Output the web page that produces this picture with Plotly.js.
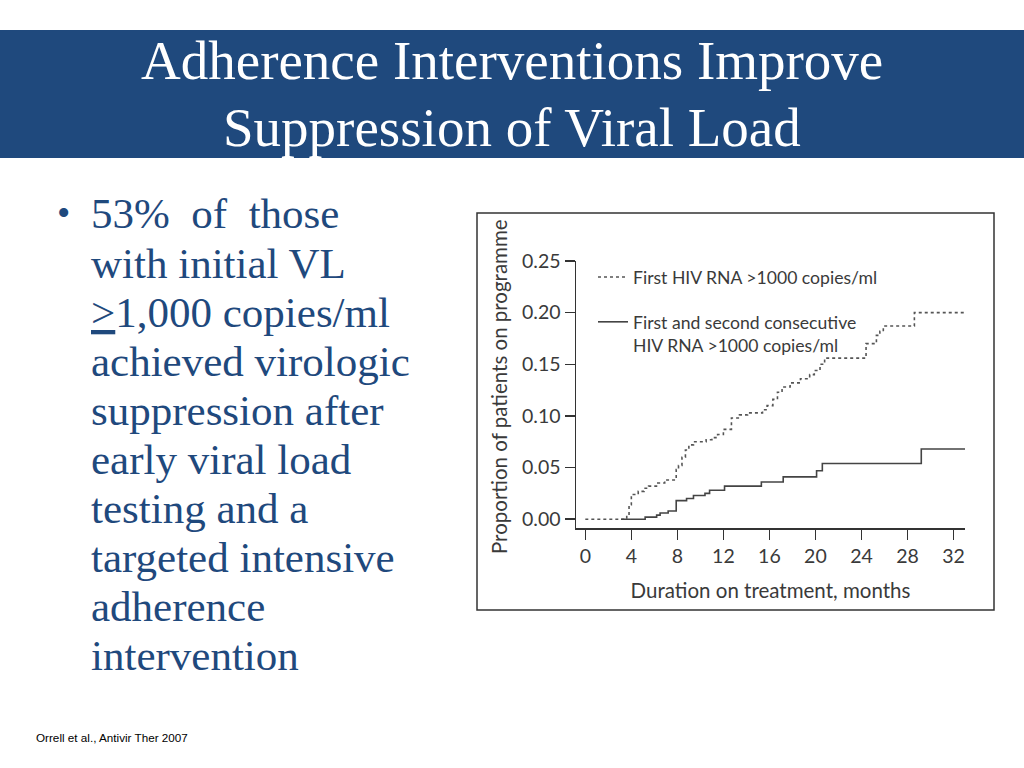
<!DOCTYPE html>
<html>
<head>
<meta charset="utf-8">
<script src="https://cdn.plot.ly/plotly-3.0.1.min.js"></script>
<style>html,body{margin:0;padding:0;background:#fff;}#chart{width:1024px;height:768px;}</style>
</head>
<body>
<div id="chart"></div>
<script>
// ---- data ----
var firstMonths = [0, 3.6, 3.8, 4.0, 4.6, 5.1, 5.5, 6.3, 6.9, 7.9, 8.1, 8.4, 8.7, 9.0, 9.4, 10.5, 11.0, 11.5, 12.0, 12.7, 13.4, 14.1, 15.4, 15.8, 16.3, 16.7, 17.1, 17.8, 18.7, 19.5, 19.9, 20.4, 20.8, 24.4, 25.3, 25.6, 25.9, 28.6, 33];
var firstProp   = [0, 0.004, 0.014, 0.024, 0.027, 0.030, 0.032, 0.035, 0.038, 0.048, 0.052, 0.060, 0.067, 0.072, 0.075, 0.077, 0.079, 0.082, 0.087, 0.098, 0.101, 0.103, 0.106, 0.110, 0.116, 0.123, 0.128, 0.132, 0.136, 0.140, 0.144, 0.150, 0.156, 0.170, 0.178, 0.182, 0.187, 0.200, 0.200];
var secondMonths = [3.1, 5.2, 6.2, 6.5, 7.2, 7.9, 8.8, 9.4, 10.4, 10.8, 12.1, 15.3, 17.2, 20.1, 20.6, 29.2, 33];
var secondProp   = [0, 0.002, 0.004, 0.006, 0.008, 0.018, 0.020, 0.023, 0.025, 0.028, 0.032, 0.036, 0.041, 0.047, 0.054, 0.068, 0.068];
var xTicks = [0, 4, 8, 12, 16, 20, 24, 28, 32];
var yTicks = [0, 0.05, 0.10, 0.15, 0.20, 0.25];
var seriesNames = ["First HIV RNA >1000 copies/ml", "First and second consecutive<br>HIV RNA >1000 copies/ml"];
var titleLines = ["Adherence Interventions Improve", "Suppression of Viral Load"];
var bulletLines = [
  "53%&nbsp; of&nbsp; those",
  "with initial VL",
  "<span style=\"text-decoration:underline\">&gt;</span>1,000 copies/ml",
  "achieved virologic",
  "suppression after",
  "early viral load",
  "testing and a",
  "targeted intensive",
  "adherence",
  "intervention"
];
var citation = "Orrell et al., Antivir Ther 2007";
var xTitle = "Duration on treatment, months";
var yTitle = "Proportion of patients on programme";

// ---- helpers: page pixels to paper coords ----
var W = 1024, H = 768;
function px(x){ return x / W; }
function py(y){ return 1 - y / H; }

var chartFont = "Lato, 'Open Sans', sans-serif";
var ink = "#3a3a3a";
var serif = "'Liberation Serif', 'DejaVu Serif', serif";
var slideBlue = "#1F497D";

var traces = [
  {x: firstMonths, y: firstProp, type: "scatter", mode: "lines", name: seriesNames[0],
   line: {shape: "hv", dash: "dot", width: 1.6, color: "#555555"}, legendgroup: "a"},
  {x: secondMonths, y: secondProp, type: "scatter", mode: "lines", name: seriesNames[1],
   line: {shape: "hv", width: 1.6, color: "#444444"}, legendgroup: "b"}
];

var annotations = [];
var titleY = [60, 127];
titleLines.forEach(function(t, i){
  annotations.push({text: t, x: px(512), y: py(titleY[i]), xref: "paper", yref: "paper",
    xanchor: "center", yanchor: "middle", showarrow: false,
    font: {family: serif, size: 55, color: "#ffffff"}});
});
annotations.push({text: "\u2022", x: px(55), y: py(213), xref: "paper", yref: "paper", xanchor: "left", yanchor: "middle",
   showarrow: false, font: {family: serif, size: 38, color: slideBlue}});
var lineY0 = 214, lineStep = 49.1;
bulletLines.forEach(function(t, i){
  annotations.push({text: t, x: px(89), y: py(lineY0 + i * lineStep), xref: "paper", yref: "paper",
    xanchor: "left", yanchor: "middle", showarrow: false, align: "left",
    font: {family: serif, size: 43, color: slideBlue}});
});
annotations.push({text: citation, x: px(34), y: py(737), xref: "paper", yref: "paper", xanchor: "left", yanchor: "middle",
   showarrow: false, font: {family: "'Liberation Sans Narrow', 'Liberation Sans', sans-serif", size: 11.7, color: "#000000"}});
// y-axis title, placed as in the reference
annotations.push({text: yTitle, x: px(499), y: py(387), xref: "paper", yref: "paper", xanchor: "center", yanchor: "middle",
   textangle: -90, showarrow: false, font: {family: chartFont, size: 20.5, color: ink}});

var shapes = [
  {type: "rect", xref: "paper", yref: "paper", x0: 0, x1: 1, y0: py(158), y1: py(30),
   fillcolor: slideBlue, line: {width: 0}, layer: "below"},
  {type: "rect", xref: "paper", yref: "paper", x0: px(477), x1: px(994), y0: py(610), y1: py(213),
   fillcolor: "rgba(0,0,0,0)", line: {width: 1.5, color: "#333333"}, layer: "below"}
];

var layout = {
  width: W, height: H,
  margin: {l: 0, r: 0, t: 0, b: 0, pad: 0},
  paper_bgcolor: "#ffffff", plot_bgcolor: "#ffffff",
  showlegend: true,
  legend: {x: px(593), y: py(259), xanchor: "left", yanchor: "top", bgcolor: "rgba(0,0,0,0)",
           font: {family: chartFont, size: 17.6, color: ink}, valign: "top",
           traceorder: "grouped", tracegroupgap: 19, itemwidth: 30},
  xaxis: {domain: [px(576), px(965)], range: [-0.81, 33.0], tickvals: xTicks, ticktext: xTicks.map(String),
          showgrid: false, zeroline: false, showline: true, linecolor: "#333", linewidth: 1.5,
          ticks: "outside", ticklen: 10, tickwidth: 1.5, tickcolor: "#333", automargin: false,
          tickfont: {family: chartFont, size: 19.5, color: ink},
          title: {text: xTitle, font: {family: chartFont, size: 20.5, color: ink}, standoff: 17}},
  yaxis: {domain: [py(528), py(261)], range: [-0.0085, 0.25], tickvals: yTicks, tickformat: ".2f",
          showgrid: false, zeroline: false, showline: true, linecolor: "#333", linewidth: 1.5,
          ticks: "outside", ticklen: 10, tickwidth: 1.5, tickcolor: "#333", automargin: false,
          tickfont: {family: chartFont, size: 19.5, color: ink}},
  annotations: annotations,
  shapes: shapes
};

Plotly.newPlot("chart", traces, layout, {staticPlot: true, displayModeBar: false});
</script>
</body>
</html>
